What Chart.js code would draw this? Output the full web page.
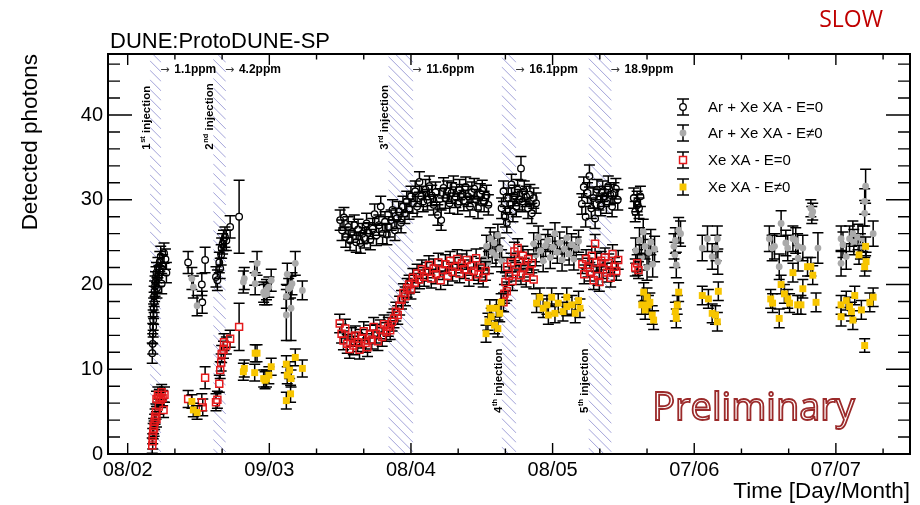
<!DOCTYPE html>
<html><head><meta charset="utf-8">
<script src="https://cdn.jsdelivr.net/npm/chart.js@4.4.1/dist/chart.umd.min.js"></script>
<style>html,body{margin:0;padding:0;background:#fff}#wrap{width:920px;height:505px;position:relative}</style>
</head><body><div id="wrap"><canvas id="c" width="920" height="505"></canvas></div>
<script>
// ---------- DATA (x = days since 08/02, y = detected photons, e = error) ----------
const xTickLabels = ['08/02','09/03','08/04','08/05','07/06','07/07'];
const seriesNames = ['Ar + Xe XA - E=0','Ar + Xe XA - E\u22600','Xe XA - E=0','Xe XA - E\u22600'];
const injectionBands = [[4.7,7.1],[18.1,20.8],[55.2,60.5],[79.2,82.3],[97.6,102.5]];
const injectionNumbers = ['1','2','3','4','5'];
const injectionSuffix = ['st','nd','rd','th','th'];
const injectionLabelY = [35.9,35.9,35.9,4.85,4.85];
const ppmLabels = ['1.1ppm','4.2ppm','11.6ppm','16.1ppm','18.9ppm'];

const arXeField0 = [
[5.2,11.9,1.2],[5.3,13.0,1.2],[5.3,14.2,1.2],[5.4,15.0,1.2],[5.4,15.8,1.2],[5.5,16.5,1.2],[5.5,17.2,1.2],[5.6,17.9,1.2],[5.6,18.6,1.2],[5.7,19.2,1.2],[5.8,19.8,1.2],[5.9,20.3,1.2],[6.0,20.9,1.2],[6.1,21.4,1.2],[6.2,19.6,1.2],[6.4,22.0,1.2],[6.6,21.0,1.2],[6.8,22.7,1.2],[7.0,23.3,1.2],[7.2,20.1,1.2],[7.4,22.3,1.2],[7.7,23.7,1.2],[8.0,23.0,1.2],[8.2,21.4,1.2],
[12.8,22.6,1.3],[15.7,20.0,1.3],[15.8,17.9,1.3],[16.4,22.9,1.5],
[18.7,20.9,1.2],[19.0,20.5,1.2],[19.4,22.6,1.2],[19.6,21.9,1.2],[19.8,23.5,1.2],[19.9,24.3,1.2],[20.1,24.8,1.2],[20.3,25.2,1.2],[20.6,25.6,1.2],[20.9,25.2,1.2],[21.7,26.8,1.3],[23.6,28.0,4.3],
[45.0,27.6,1.2],[45.4,26.4,1.2],[45.8,27.9,1.2],[46.2,25.6,1.2],[46.7,26.8,1.2],[47.1,25.2,1.2],[47.5,26.2,1.2],[48.0,27.0,1.2],[48.4,25.0,1.2],[48.8,26.5,1.2],[49.3,24.9,1.2],[49.7,26.0,1.2],[50.1,25.5,1.2],[50.6,27.2,1.2],[51.0,26.1,1.2],[51.4,25.3,1.2],[51.9,26.6,1.2],[52.3,28.3,1.2],[52.7,25.8,1.2],[53.2,27.0,1.2],[53.6,29.2,1.2],[54.0,26.0,1.2],[54.5,27.4,1.2],[54.9,25.9,1.2],[55.3,26.8,1.2],[55.8,27.6,1.2],[56.1,28.8,1.2],[56.6,26.4,1.2],[57.0,27.8,1.2],[57.4,28.6,1.2],[57.9,27.3,1.2],[58.3,29.2,1.2],[58.7,28.4,1.2],[59.1,29.8,1.2],[59.6,28.9,1.2],[60.0,30.4,1.2],[60.4,29.6,1.2],[60.9,31.0,1.2],[61.3,29.2,1.2],[61.8,32.1,1.2],[62.2,30.4,1.2],[62.6,29.8,1.2],[63.1,31.2,1.2],[63.5,30.0,1.2],[63.9,31.6,1.2],[64.4,30.5,1.2],[64.8,29.4,1.2],[65.2,30.9,1.2],[65.7,28.2,1.2],[66.1,30.1,1.2],[66.4,27.6,1.2],[66.9,31.4,1.2],[67.3,30.2,1.2],[67.7,31.0,1.2],[68.2,29.6,1.2],[68.6,30.8,1.2],[69.0,31.6,1.2],[69.5,30.3,1.2],[69.9,29.5,1.2],[70.3,31.2,1.2],[70.8,30.6,1.2],[71.2,29.9,1.2],[71.6,31.5,1.2],[72.1,30.4,1.2],[72.5,29.2,1.2],[72.9,30.9,1.2],[73.4,31.3,1.2],[73.8,30.0,1.2],[74.2,29.0,1.2],[74.7,30.7,1.2],[75.1,31.1,1.2],[75.5,29.8,1.2],[76.0,30.5,1.2],[76.4,29.4,1.2],
[79.2,29.0,1.2],[79.6,31.0,1.2],[80.0,28.0,1.2],[80.3,27.3,1.2],[80.6,30.2,1.2],[81.0,29.5,1.2],[81.3,31.8,1.2],[81.6,28.6,1.2],[82.0,30.5,1.2],[82.3,29.2,1.2],[82.6,31.2,1.2],[83.0,30.0,1.2],[83.3,33.7,1.4],[83.6,29.8,1.2],[84.0,31.0,1.2],[84.4,30.4,1.2],[84.8,29.0,1.2],[85.2,30.6,1.2],[85.6,28.4,1.2],[86.0,30.2,1.2],[86.5,29.6,1.2],
[96.2,29.5,1.2],[96.6,31.5,1.2],[97.0,28.0,1.2],[97.4,30.8,1.2],[97.8,32.8,1.3],[98.2,29.0,1.2],[98.6,30.2,1.2],[99.0,27.8,1.2],[99.4,31.2,1.2],[99.8,30.0,1.2],[100.2,29.3,1.2],[100.6,31.0,1.2],[101.0,30.4,1.2],[101.4,29.6,1.2],[101.8,31.6,1.2],[102.2,30.6,1.2],[102.6,29.2,1.2],[103.0,30.8,1.2],[103.4,31.3,1.2],[103.8,30.0,1.2],
[107.2,30.2,1.2],[107.5,28.6,1.2],[107.9,29.8,1.2],[108.0,29.4,1.2],[108.3,29.0,1.2],[108.6,30.4,1.2]
];

const arXeFieldOn = [
[13.6,20.7,1.3],[13.9,19.7,1.3],[14.7,17.5,1.2],
[24.5,20.3,1.3],[24.7,20.7,1.3],[26.9,21.3,1.4],[27.0,20.1,1.3],[27.4,22.5,1.4],[28.8,19.1,1.2],[29.0,18.8,1.2],[29.4,19.4,1.2],[29.5,18.9,1.3],[29.9,19.7,1.2],[30.4,20.5,1.3],
[33.6,18.6,1.4],[33.6,16.4,3.0],[33.8,21.2,1.3],[34.1,19.5,1.2],[34.5,19.7,1.3],[34.6,17.2,3.8],[34.8,20.1,1.3],[35.5,22.5,1.4],[37.0,19.3,1.1],
[75.6,23.0,1.3],[76.0,24.5,1.3],[76.4,22.6,1.3],[76.8,25.4,1.3],[77.2,23.8,1.3],[77.6,24.9,1.3],[78.0,23.4,1.3],[78.4,25.8,1.3],[78.8,24.2,1.3],[79.2,22.8,1.3],
[86.0,24.8,1.3],[86.5,23.5,1.3],[87.0,25.6,1.3],[87.5,24.0,1.3],[88.0,22.8,1.3],[88.5,24.6,1.3],[89.0,25.2,1.3],[89.5,23.2,1.3],[90.0,24.4,1.3],[90.5,26.0,1.3],[91.0,23.8,1.3],[91.5,24.9,1.3],[92.0,22.9,1.3],[92.5,24.2,1.3],[93.0,25.5,1.3],[93.5,23.6,1.3],[94.0,24.7,1.3],[94.5,23.0,1.3],[95.0,24.3,1.3],[95.5,25.1,1.3],
[107.6,24.0,1.5],[108.0,22.6,1.5],[108.4,25.2,1.5],[108.8,23.2,1.5],[109.2,26.2,1.5],[109.6,24.5,1.5],[110.0,22.0,1.5],[110.4,23.8,1.5],[110.8,25.0,1.5],[111.2,22.4,1.5],[111.6,24.2,1.5],
[115.7,24.5,1.5],[115.9,23.5,1.5],[116.0,25.2,1.5],[116.2,22.3,1.5],[116.7,26.4,1.5],[117.1,26.0,1.5],
[121.7,24.3,1.5],[122.8,25.4,1.5],[123.8,23.3,1.5],[124.6,24.3,1.5],[124.9,25.4,1.5],[125.0,22.7,1.5],
[135.9,25.4,1.5],[136.5,24.3,1.5],[137.0,24.5,1.5],[138.0,22.1,1.5],[138.4,27.2,1.5],[139.4,24.9,1.5],[139.8,24.3,1.5],[140.9,25.4,1.5],[141.5,25.2,1.5],[141.9,24.5,1.5],[142.0,23.1,1.5],[143.0,24.3,1.5],[144.7,29.0,1.0],[145.1,28.6,1.0],[144.9,28.2,1.0],[146.2,24.3,1.8],
[151.1,25.4,1.5],[151.5,24.7,1.5],[151.1,22.5,1.5],[152.2,23.3,1.5],[152.9,25.4,1.5],[153.6,26.0,1.5],[153.8,25.0,1.5],[154.7,25.6,1.5],[155.2,24.5,1.5],[155.7,25.4,1.5],[156.1,28.4,1.5],[156.1,29.8,1.5],[156.3,31.6,2.0],[157.9,26.0,1.5]
];

const xeField0 = [
[5.2,1.0,0.9],[5.3,1.5,0.9],[5.3,2.1,0.9],[5.4,2.7,0.9],[5.5,3.3,0.9],[5.6,3.0,0.9],[5.7,3.8,0.9],[5.8,4.4,0.9],[6.0,5.0,0.9],[6.1,4.1,0.9],[6.1,6.5,0.9],[6.4,7.0,0.9],[6.6,5.6,0.9],[6.7,6.7,0.9],[7.0,6.4,0.9],[7.2,7.3,0.9],[7.4,6.6,0.9],[7.6,5.2,0.9],[7.8,7.0,0.9],
[12.8,6.5,1.0],[15.7,6.1,1.0],[15.9,5.5,1.0],[16.4,9.0,1.3],
[18.7,6.1,1.0],[19.0,6.4,1.0],[19.4,8.3,1.0],[19.6,9.9,1.0],[19.8,10.8,1.0],[19.9,11.8,1.0],[20.3,12.3,1.0],[20.4,13.2,1.0],[20.9,12.8,1.0],[21.7,13.6,1.0],[23.6,15.0,2.8],
[44.9,15.4,1.1],[45.3,14.2,1.1],[45.7,13.4,1.1],[46.1,14.8,1.1],[46.5,13.0,1.1],[47.0,12.4,1.1],[47.4,13.8,1.1],[47.8,12.8,1.1],[48.2,14.0,1.1],[48.7,13.2,1.1],[49.1,12.3,1.1],[49.5,13.6,1.1],[50.0,14.5,1.1],[50.4,13.1,1.1],[50.8,12.6,1.1],[51.3,14.1,1.1],[51.7,13.5,1.1],[52.1,15.0,1.1],[52.6,14.2,1.1],[53.0,13.3,1.1],[53.5,14.7,1.1],[53.9,13.8,1.1],[54.3,15.3,1.1],[54.8,14.4,1.1],[55.2,15.0,1.1],[55.6,14.6,1.1],[56.0,15.6,1.1],[56.4,16.0,1.1],[56.8,16.8,1.1],[57.2,16.4,1.1],[57.6,17.5,1.1],[58.0,18.2,1.1],[58.4,19.0,1.1],[58.8,18.6,1.1],[59.2,19.6,1.1],[59.6,20.0,1.1],[60.0,19.4,1.1],[60.4,20.8,1.1],[60.8,20.2,1.1],[61.3,21.3,1.1],[61.8,20.6,1.1],[62.3,21.8,1.1],[62.8,20.9,1.1],[63.3,21.5,1.1],[63.8,22.3,1.1],[64.3,20.7,1.1],[64.8,21.9,1.1],[65.3,21.2,1.1],[65.8,22.6,1.1],[66.3,20.5,1.1],[66.8,21.7,1.1],[67.3,22.4,1.1],[67.8,21.0,1.1],[68.3,22.8,1.1],[68.8,21.5,1.1],[69.3,22.1,1.1],[69.8,23.0,1.1],[70.3,21.3,1.1],[70.8,22.5,1.1],[71.3,21.8,1.1],[71.8,22.9,1.1],[72.3,20.9,1.1],[72.8,22.2,1.1],[73.3,21.6,1.1],[73.8,23.1,1.1],[74.3,21.2,1.1],[74.8,22.0,1.1],[75.3,20.8,1.1],[75.8,21.6,1.1],
[79.6,17.9,1.1],[79.8,18.9,1.1],[80.0,20.3,1.1],[80.3,19.2,1.1],[80.4,22.1,1.1],[80.8,21.0,1.1],[81.2,22.6,1.1],[81.5,20.4,1.1],[81.9,23.9,1.1],[82.2,21.5,1.1],[82.6,24.3,1.1],[82.9,22.8,1.1],[83.3,21.1,1.1],[83.7,23.4,1.1],[84.0,22.0,1.1],[84.4,20.8,1.1],[84.8,23.0,1.1],[85.2,21.6,1.1],[85.6,22.5,1.1],[86.0,20.6,1.1],
[96.3,22.4,1.1],[96.7,21.2,1.1],[97.1,23.0,1.1],[97.5,22.0,1.1],[97.9,21.5,1.1],[98.3,23.4,1.1],[98.7,20.5,1.1],[99.0,24.8,1.1],[99.3,22.6,1.1],[99.6,21.0,1.1],[99.9,20.3,1.1],[100.3,22.8,1.1],[100.7,21.8,1.1],[101.1,23.2,1.1],[101.5,21.4,1.1],[101.9,22.5,1.1],[102.3,20.8,1.1],[102.7,23.6,1.1],[103.1,22.1,1.1],[103.5,21.6,1.1],[103.9,22.9,1.1],
[107.5,22.0,1.0],[107.9,22.5,1.0],[108.2,21.7,1.0]
];

const xeFieldOn = [
[13.6,6.2,0.8],[13.9,5.2,0.8],[14.7,4.9,0.8],
[24.5,9.7,1.0],[24.7,10.1,1.0],[26.9,9.6,1.0],[27.0,11.9,1.0],[27.4,11.9,1.0],[28.8,8.9,1.0],[29.1,8.7,1.0],[29.4,8.9,1.0],[29.9,9.3,1.0],[30.4,10.3,1.0],[33.6,10.6,1.0],[33.6,6.3,1.0],[33.8,9.3,1.0],[34.3,9.9,1.0],[34.5,7.1,1.0],[34.6,8.9,1.0],[35.5,11.4,1.0],[37.0,10.1,1.0],
[75.9,14.2,1.0],[76.3,15.6,1.0],[76.7,17.2,1.0],[77.0,16.2,1.0],[77.7,15.2,1.0],[78.1,17.2,1.0],[78.4,14.8,1.0],[78.8,16.6,1.0],[79.1,17.9,1.0],
[86.6,17.8,1.1],[87.3,18.5,1.1],[88.0,17.2,1.1],[88.8,17.6,1.1],[89.1,16.4,1.1],[89.8,18.5,1.1],[90.5,16.6,1.1],[91.2,17.8,1.1],[92.2,16.8,1.1],[93.0,18.5,1.1],[93.0,17.4,1.1],[94.1,17.6,1.1],[94.8,16.6,1.1],[95.5,18.1,1.1],[95.8,17.2,1.1],
[108.9,17.6,1.1],[109.3,19.1,1.1],[109.6,17.0,1.1],[110.0,18.5,1.1],[110.3,17.6,1.1],[110.6,17.9,1.1],[111.1,16.4,1.1],[111.4,15.8,1.1],
[116.0,16.8,1.1],[116.2,16.0,1.1],[116.4,17.6,1.1],[116.7,19.1,1.1],
[121.7,18.7,1.1],[123.0,18.3,1.1],[123.8,16.6,1.1],[124.5,16.4,1.1],[124.9,15.6,1.1],[125.1,19.2,1.1],
[136.2,18.3,1.1],[136.6,17.8,1.1],[138.0,16.0,1.1],[138.4,20.0,1.1],[139.1,18.9,1.1],[139.8,18.3,1.1],[140.2,17.8,1.1],[140.9,21.4,1.1],[141.9,17.6,1.1],[142.6,17.6,1.1],[143.0,19.5,1.1],[144.0,22.1,1.1],[144.7,22.1,1.1],[145.1,21.1,1.1],[145.8,17.9,1.1],
[151.1,17.6,1.1],[151.1,16.2,1.1],[152.2,18.1,1.1],[152.9,17.4,1.1],[153.3,16.8,1.1],[153.6,15.8,1.1],[154.0,18.7,1.1],[154.9,23.5,1.1],[155.4,17.0,1.1],[156.1,12.8,0.8],[156.1,22.1,1.1],[156.3,24.5,1.1],[156.4,22.7,1.1],[157.2,17.9,1.1],[157.9,18.5,1.1]
];

// ---------- STYLES ----------
const FONT = '"Liberation Sans", Arial, Helvetica, sans-serif';
const styles = [
  {pointStyle:'circle', radius:3.3, borderColor:'#000', backgroundColor:'rgba(0,0,0,0)', borderWidth:1.3, gap:3.3, order:4},
  {pointStyle:'circle', radius:3.4, borderColor:'#aaaaaa', backgroundColor:'#aaaaaa', borderWidth:0, gap:0, order:3},
  {pointStyle:'rect', radius:4.9, borderColor:'#e41a1c', backgroundColor:'rgba(0,0,0,0)', borderWidth:1.5, gap:3.5, order:2},
  {pointStyle:'rect', radius:4.9, borderColor:'#f7c500', backgroundColor:'#f7c500', borderWidth:0, gap:0, order:1}
];
const allSeries = [arXeField0, arXeFieldOn, xeField0, xeFieldOn];

const datasets = allSeries.map((s, i) => ({
  label: seriesNames[i],
  data: s.map(p => ({x: p[0], y: p[1]})),
  errs: s.map(p => p[2]),
  pointStyle: styles[i].pointStyle,
  pointRadius: styles[i].radius,
  pointBorderColor: styles[i].borderColor,
  pointBackgroundColor: styles[i].backgroundColor,
  pointBorderWidth: styles[i].borderWidth,
  gap: styles[i].gap,
  order: styles[i].order,
  showLine: false
}));

function drawErrBar(ctx, x, yTop, yBot, yc, gap, cap) {
  ctx.beginPath();
  if (gap > 0) {
    ctx.moveTo(x, yTop); ctx.lineTo(x, Math.min(yc - gap, yBot));
    ctx.moveTo(x, Math.max(yc + gap, yTop)); ctx.lineTo(x, yBot);
  } else {
    ctx.moveTo(x, yTop); ctx.lineTo(x, yBot);
  }
  ctx.moveTo(x - cap, yTop); ctx.lineTo(x + cap, yTop);
  ctx.moveTo(x - cap, yBot); ctx.lineTo(x + cap, yBot);
  ctx.stroke();
}

const errorBarPlugin = {
  id: 'errorBars',
  beforeDatasetDraw(chart, args) {
    const ds = chart.data.datasets[args.index];
    const ys = chart.scales.y;
    const ctx = chart.ctx;
    ctx.save();
    ctx.strokeStyle = '#000'; ctx.lineWidth = 1.5;
    args.meta.data.forEach((pt, i) => {
      const v = ds.data[i].y, e = ds.errs[i];
      drawErrBar(ctx, pt.x, ys.getPixelForValue(v + e), ys.getPixelForValue(v - e), pt.y, ds.gap, 5.5);
    });
    ctx.restore();
  }
};

const bandsPlugin = {
  id: 'bands',
  beforeDatasetsDraw(chart) {
    const {ctx, chartArea: a, scales: {x, y}} = chart;
    ctx.save();
    injectionBands.forEach(b => {
      const x0 = x.getPixelForValue(b[0]), x1 = x.getPixelForValue(b[1]);
      ctx.save();
      ctx.beginPath(); ctx.rect(x0, a.top, x1 - x0, a.bottom - a.top); ctx.clip();
      ctx.strokeStyle = 'rgba(110,110,195,0.75)'; ctx.lineWidth = 0.85;
      ctx.beginPath();
      const w = x1 - x0;
      for (let k = a.top - w - 20; k < a.bottom + 10; k += 9.5) {
        ctx.moveTo(x0, k); ctx.lineTo(x1, k + w);
      }
      ctx.stroke();
      ctx.restore();
    });
    ctx.restore();
  },
  afterDatasetsDraw(chart) {
    const {ctx, scales: {x, y}} = chart;
    ctx.save();
    ctx.fillStyle = '#000';
    injectionBands.forEach((b, i) => {
      const bx = x.getPixelForValue(b[0]);
      const by = y.getPixelForValue(injectionLabelY[i]);
      ctx.save();
      ctx.translate(bx, by); ctx.rotate(-Math.PI / 2);
      ctx.fillStyle = '#000';
      ctx.textAlign = 'left'; ctx.textBaseline = 'alphabetic';
      ctx.font = 'bold 11.5px ' + FONT;
      ctx.fillText(injectionNumbers[i], 0, 0);
      let w = ctx.measureText(injectionNumbers[i]).width;
      ctx.font = 'bold 7.5px ' + FONT;
      ctx.fillText(injectionSuffix[i], w + 0.5, -5);
      w += ctx.measureText(injectionSuffix[i]).width + 0.5;
      ctx.font = 'bold 11.5px ' + FONT;
      ctx.fillText(' injection', w, 0);
      ctx.restore();
      const ex = x.getPixelForValue(b[1]);
      const ey = y.getPixelForValue(45.0);
      ctx.textAlign = 'left'; ctx.textBaseline = 'alphabetic';
      ctx.fillStyle = '#333';
      ctx.font = '11px "DejaVu Sans", sans-serif';
      ctx.fillText('\u2192', ex - 1, ey);
      ctx.fillStyle = '#000';
      ctx.font = 'bold 12px ' + FONT;
      ctx.fillText(ppmLabels[i], ex + 13, ey);
    });
    ctx.restore();
  },
  afterDraw(chart) {
    const {ctx, chartArea: a, scales: {x, y}} = chart;
    ctx.save();
    ctx.strokeStyle = '#000'; ctx.lineWidth = 2;
    ctx.strokeRect(a.left, a.top, a.right - a.left, a.bottom - a.top);
    ctx.lineWidth = 1.4;
    ctx.beginPath();
    for (let v = 0; v <= y.max; v += 2) {
      const py = y.getPixelForValue(v);
      const len = (v % 10 === 0) ? 24 : 12;
      ctx.moveTo(a.left, py); ctx.lineTo(a.left + len, py);
      ctx.moveTo(a.right, py); ctx.lineTo(a.right - len, py);
    }
    for (let d = 0; d <= x.max; d += 10) {
      const px = x.getPixelForValue(d);
      const len = (d % 30 === 0) ? 11 : 5.5;
      ctx.moveTo(px, a.bottom); ctx.lineTo(px, a.bottom - len);
      ctx.moveTo(px, a.top); ctx.lineTo(px, a.top + len);
    }
    ctx.stroke();
    // legend
    const lx = 683, ly = [107, 133, 160, 187];
    styles.forEach((s, i) => {
      ctx.strokeStyle = '#000'; ctx.lineWidth = 1.5;
      drawErrBar(ctx, lx, ly[i] - 8, ly[i] + 8, ly[i], s.gap, 6);
      ctx.save();
      ctx.fillStyle = s.backgroundColor; ctx.strokeStyle = s.borderColor; ctx.lineWidth = s.borderWidth;
      Chart.helpers.drawPoint(ctx, {pointStyle: s.pointStyle, radius: s.radius, borderWidth: s.borderWidth, rotation: 0}, lx, ly[i]);
      ctx.restore();
      ctx.fillStyle = '#000';
      ctx.font = '15px ' + FONT;
      ctx.textAlign = 'left'; ctx.textBaseline = 'middle';
      ctx.fillText(seriesNames[i], 708, ly[i] + 1);
    });
    ctx.fillStyle = '#000';
    ctx.font = '22px ' + FONT;
    ctx.textAlign = 'left'; ctx.textBaseline = 'alphabetic';
    ctx.fillText('DUNE:ProtoDUNE-SP', 110, 48);
    ctx.fillStyle = '#c00000';
    ctx.font = '23px "Open Sans", sans-serif';
    ctx.textAlign = 'center';
    ctx.fillText('SLOW', 851, 27);
    ctx.font = '38px "Open Sans", sans-serif';
    ctx.textAlign = 'left';
    const px = x.getPixelForValue(111.1), py = y.getPixelForValue(4.0);
    ctx.fillStyle = '#ffffff';
    ctx.fillText('Preliminary', px, py);
    ctx.strokeStyle = '#9b2a2a'; ctx.lineWidth = 1.8;
    ctx.strokeText('Preliminary', px, py);
    ctx.restore();
  }
};

new Chart(document.getElementById('c'), {
  type: 'scatter',
  data: { datasets },
  plugins: [errorBarPlugin, bandsPlugin],
  options: {
    responsive: false,
    animation: false,
    events: [],
    layout: { padding: { top: 54, right: 10, left: 0, bottom: 0 } },
    plugins: { legend: { display: false }, tooltip: { enabled: false } },
    scales: {
      x: {
        type: 'linear', min: -4.17, max: 165.7,
        grid: { display: false, drawTicks: false }, border: { display: false },
        afterFit: s => { s.height = 51; },
        ticks: {
          stepSize: 30, includeBounds: false, padding: 4, maxRotation: 0, autoSkip: false,
          color: '#000', font: { family: FONT, size: 20 },
          callback: v => { const k = Math.round(v / 30); return (Math.abs(v - k * 30) < 1e-6 && xTickLabels[k]) ? xTickLabels[k] : ''; }
        },
        title: { display: true, text: 'Time [Day/Month]', align: 'end', color: '#000',
                 font: { family: FONT, size: 22.5 }, padding: { top: 0, bottom: 0 } }
      },
      y: {
        type: 'linear', min: 0, max: 47.2,
        grid: { display: false, drawTicks: false }, border: { display: false },
        afterFit: s => { s.width = 108; },
        ticks: { stepSize: 10, includeBounds: false, padding: 5, color: '#000', font: { family: FONT, size: 20 } },
        title: { display: true, text: 'Detected photons', align: 'end', color: '#000',
                 font: { family: FONT, size: 22.5 }, padding: { top: 17, bottom: 0 } }
      }
    }
  }
});
</script>
</body></html>
